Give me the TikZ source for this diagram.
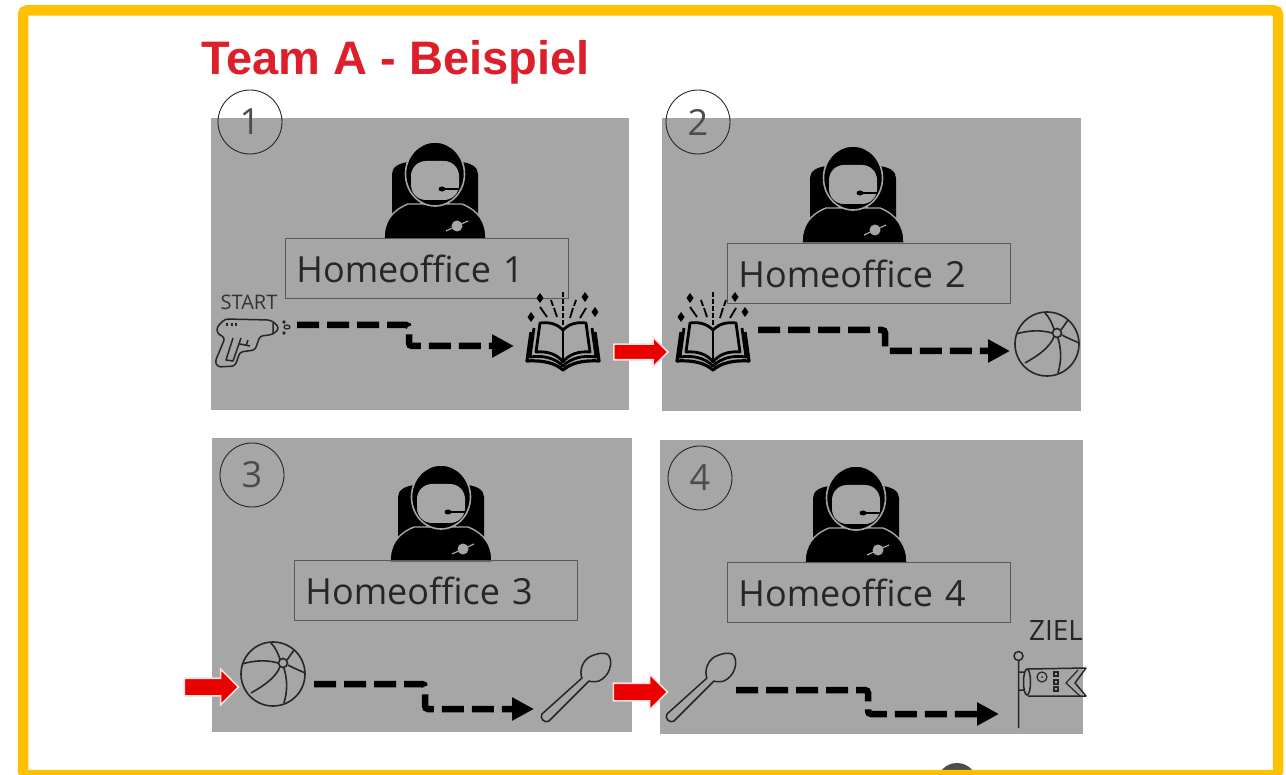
\documentclass[tikz,border=0pt]{standalone}
\usepackage{fontspec}
\setmainfont{Open Sans}
\newfontfamily\titlefont{Liberation Sans}
\usetikzlibrary{arrows.meta,shapes.arrows}
\definecolor{panelgray}{HTML}{A6A6A6}
\definecolor{framegold}{HTML}{FFC000}
\definecolor{titlered}{HTML}{DC1F2A}
\tikzset{
    panelbox/.style={fill=panelgray,anchor=north west,inner sep=0pt},
    numcirc/.style={circle,draw=black!85,line width=0.9pt,minimum size=64pt,inner sep=0pt,text=black!70,font=\fontsize{36}{40}\selectfont},
    officebox/.style={draw=black!65,line width=0.9pt,anchor=north west,minimum width=283pt,minimum height=60pt,text width=261pt,inner xsep=11pt,inner ysep=0pt,align=left,text=black!85,font=\fontsize{36}{40}\selectfont},
    wayarrow/.style={line width=6.5pt,rounded corners=3pt,dash pattern=on 22pt off 8pt,-{Triangle[length=22pt,width=22pt]}},
    redarrow/.style={single arrow,fill=red!92!black,draw=red!12,line width=1.6pt,minimum height=54pt,single arrow head extend=9pt,single arrow head indent=0pt,inner xsep=0pt,inner ysep=8pt},
    spaceman/.pic={
        \fill[black] (-43,38) -- (-43,-3) .. controls (-43,-10) and (-36,-14) .. (-26,-15) -- (-15,-15) -- (-15,38) -- cycle;
        \fill[black] (43,38) -- (43,-3) .. controls (43,-10) and (36,-14) .. (26,-15) -- (15,-15) -- (15,38) -- cycle;
        \filldraw[fill=black,draw=panelgray,line width=1.4pt] (-51,62) .. controls (-51,45) and (-44,34) .. (-27,27) -- (27,27) .. controls (44,34) and (51,45) .. (51,62) -- cycle;
        \fill[black,draw=panelgray,line width=1.6pt] (0,-3) ellipse (29.500pt and 32pt);
        \fill[panelgray,rounded corners=15pt] (-24,-16) rectangle (24,23);
        \draw[black,line width=1.4pt] (5,12) -- (24,12);
        \fill[black] (7,12) ellipse (3.500pt and 2.500pt);
        \fill[panelgray] (22,49) circle (5.500pt);
        \draw[panelgray,line width=1.2pt] (11,54) -- (33,44);
    },
    openbook/.pic={
        \draw[black,line width=2.8pt,line join=round] (0,0) .. controls (-7,-7) and (-15,-8) .. (-23,-7) -- (-27,22) .. controls (-16,21) and (-6,24) .. (0,32) .. controls (6,24) and (16,21) .. (27,22) -- (23,-7) .. controls (15,-8) and (7,-7) .. (0,0) -- cycle;
        \draw[black,line width=2.8pt] (0,0) -- (0,32);
        \draw[black,line width=2.8pt,line join=round] (-29,-2) -- (-33,27) .. controls (-20,25) and (-8,28) .. (0,36) .. controls (8,28) and (20,25) .. (33,27) -- (29,-2);
        \draw[black,line width=3.200pt,line join=round] (-32,2) -- (-36,31) .. controls (-20,30) and (-8,33) .. (0,40) .. controls (8,33) and (20,30) .. (36,31) -- (32,2);
        \draw[black,line width=1.8pt,dash pattern=on 5pt off 2pt] (0,-38) -- (0,-5);
        \draw[black,line width=1.8pt] (-12,-30) -- (-10,-24) (-9,-22) -- (-6,-13);
        \draw[black,line width=1.8pt] (-23,-23) -- (-16,-13);
        \draw[black,line width=1.8pt] (13,-30) -- (11,-24) (10,-22) -- (7,-12);
        \draw[black,line width=1.8pt] (23,-22) -- (17,-12);
        \fill[black] (-23,-37) -- (-19.500,-32) -- (-23,-27) -- (-26.500,-32) -- cycle;
        \fill[black] (-32,-18) -- (-28.500,-13) -- (-32,-8) -- (-35.500,-13) -- cycle;
        \fill[black] (22,-38) -- (25.500,-33) -- (22,-28) -- (18.500,-33) -- cycle;
        \fill[black] (32,-23) -- (35.500,-18) -- (32,-13) -- (28.500,-18) -- cycle;
    },
    beachball/.pic={
        \draw[black!85,line width=1.6pt] (0,0) circle (32pt);
        \draw[black!85,line width=1.6pt] (10,-11) circle (4.500pt);
        \draw[black!85,line width=1.6pt] (-2,-31) .. controls (3,-26) and (5,-20) .. (7,-15);
        \draw[black!85,line width=1.6pt] (21,-24) -- (14,-14);
        \draw[black!85,line width=1.6pt] (32,-1) .. controls (26,-4) and (20,-6) .. (15,-9);
        \draw[black!85,line width=1.6pt] (11,29) .. controls (15,15) and (14,5) .. (11,-6);
        \draw[black!85,line width=1.6pt] (-22,19) .. controls (-8,11) and (2,4) .. (7,-7);
        \draw[black!85,line width=1.6pt] (-31,-10) .. controls (-18,-14) and (-5,-14) .. (5,-11);
    },
    bigspoon/.pic={
        \draw[black!85,line width=1.5pt,line join=round] (-15,10) .. controls (-18,4) and (-15,-10) .. (-3,-13) .. controls (5,-16) and (11,-15) .. (12,-12) .. controls (16,-6) and (13,8) .. (2,13) .. controls (-2,14) and (-6,14) .. (-8,13) -- (-48,53) .. controls (-52,56) and (-58,50) .. (-55,46) -- cycle;
    },
}
\begin{document}
\begin{tikzpicture}[x=1pt,y=-1pt]
    \useasboundingbox (0,0) rectangle (1286,775);
    \clip (0,0) rectangle (1286,775);
    \node[anchor=base west,inner sep=0pt,text=titlered,font=\titlefont\bfseries\fontsize{47}{52}\selectfont] (title) at (201,75) {Team A - Beispiel};
    % panels
    \node[panelbox,minimum width=418pt,minimum height=292pt] (panel1) at (211,118) {};
    \node[panelbox,minimum width=419pt,minimum height=293pt] (panel2) at (662,118) {};
    \node[panelbox,minimum width=420pt,minimum height=294pt] (panel3) at (212,438) {};
    \node[panelbox,minimum width=423pt,minimum height=294pt] (panel4) at (660,440) {};
    % numbers
    \node[numcirc] (num1) at (250,122) {1};
    \node[numcirc] (num2) at (698,122) {2};
    \node[numcirc] (num3) at (252,475) {3};
    \node[numcirc] (num4) at (700,478) {4};
    % people
    \pic (man1) at (435,177) {spaceman};
    \pic (man2) at (853,181) {spaceman};
    \pic (man3) at (441,500) {spaceman};
    \pic (man4) at (856,501) {spaceman};
    \node[officebox] (office1) at (285,238) {Homeoffice 1};
    \node[officebox] (office2) at (727,243) {Homeoffice 2};
    \node[officebox] (office3) at (294,560) {Homeoffice 3};
    \node[officebox] (office4) at (727,562) {Homeoffice 4};
    % panel 1: start
    \node[inner sep=0pt,text=black!80,font=\fontsize{20}{22}\selectfont] (start) at (249,302) {START};
    \draw[black!85,line width=1.5pt,rounded corners=3pt,line join=round] (217,327) -- (225,319) -- (270,320) -- (275,323) -- (279,328) -- (275,333) -- (270,335) -- (260,336) -- (255,350) -- (240,352) -- (235,366) -- (218,367) -- (215,362) -- (225,338) -- (217,333) -- cycle;
    \draw[black!85,line width=1.500pt,line join=round] (233,338) -- (226,360) -- (233,361) -- (241,338) (240,344) -- (250,346) (248,340) -- (246,346) (273,323) -- (273,333);
    \draw[black!85,line width=1.200pt] (227,323.500) -- (227,326.500) (232,323.500) -- (232,326.500) (236,323.500) -- (236,326.500);
    \draw[black!85,line width=1.200pt] (287,327) ellipse (3pt and 2pt);
    \fill[black!85] (284,322) circle (1.800pt) (284,333) circle (1.800pt);
    \pic (book1) at (563,330) {openbook};
    \pic (book2) at (713,330) {openbook};
    \pic (ball2) at (1047,344) {beachball};
    \pic (ball3) at (273,674) {beachball};
    \pic (spoon3) at (597,668) {bigspoon};
    \pic (spoon4) at (722,668) {bigspoon};
    % panel 4: goal
    \node[inner sep=0pt,text=black!85,font=\fontsize{28}{30}\selectfont] (goal) at (1056,631) {ZIEL};
    \draw[black!85,line width=1.500pt] (1018.500,656) circle (4.500pt) (1018.500,661) -- (1018.500,728);
    \draw[black!85,line width=1.500pt,line join=round] (1028,669) -- (1086,668) -- (1075,683) -- (1086,696) -- (1028,696);
    \draw[black!85,line width=1.500pt] (1027,682) ellipse (3.500pt and 13pt) (1019,672) -- (1024,672) (1019,690) -- (1024,690);
    \draw[black!85,line width=1.200pt] (1078,670) -- (1066,683) -- (1080,696);
    \draw[black!85,line width=1.200pt] (1042,677) circle (5pt);
    \fill[black!85] (1042,677) circle (1pt);
    \draw[black!85,line width=1.200pt] (1054,672) rectangle (1058,676) (1054,680) rectangle (1058,684) (1054,687) rectangle (1058,691);
    % ways
    \coordinate (from1) at (297,325);
    \coordinate (to1) at (514,346);
    \coordinate (from2) at (758,330);
    \coordinate (to2) at (1010,351);
    \coordinate (from3) at (314,684);
    \coordinate (to3) at (534,709);
    \coordinate (from4) at (736,690);
    \coordinate (to4) at (999,714);
    \draw[wayarrow] (from1) -- ++(112,0) |- (to1);
    \draw[wayarrow] (from2) -- ++(127,0) |- (to2);
    \draw[wayarrow] (from3) -- ++(111,0) |- (to3);
    \draw[wayarrow] (from4) -- ++(132,0) |- (to4);
    % hand over arrows
    \node[redarrow,inner ysep=7pt,single arrow head extend=7pt] (over1) at (637,352) {};
    \node[redarrow] (over2) at (207,687) {};
    \node[redarrow] (over3) at (636,692) {};
    % frame and the cut off logo
    \fill[black!70] (957,783) circle (20pt);
    \draw[framegold,line width=10.5pt,rounded corners=4pt] (23,10.500) rectangle (1278,775);
\end{tikzpicture}
\end{document}
